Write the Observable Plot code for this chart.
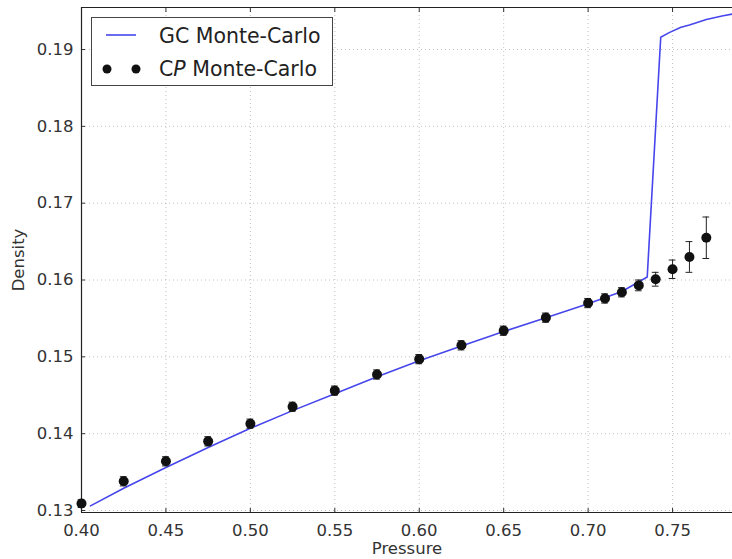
<!DOCTYPE html>
<html>
<head>
<meta charset="utf-8">
<script src="https://cdn.jsdelivr.net/npm/d3@7"></script>
<script src="https://cdn.jsdelivr.net/npm/@observablehq/plot@0.6"></script>
<style>
  html, body { margin: 0; padding: 0; background: #fff; }
  #chart { position: relative; width: 732px; height: 559px; font-family: "DejaVu Sans", sans-serif; }
  #legend {
    position: absolute; left: 91px; top: 17px; width: 242px; height: 69px;
    background: #fff; border: 1px solid #444; box-sizing: border-box;
    font-size: 20.5px; color: #222;
  }
  #legend svg { position: absolute; left: 0; top: 0; }
  #legend .label { position: absolute; left: 67px; white-space: nowrap; line-height: 24px; }
  #legend .math { font-style: italic; }
</style>
</head>
<body>
<div id="chart">
  <div id="legend">
    <svg width="60" height="67">
      <line x1="14" x2="44" y1="17" y2="17" stroke="#4646ec" stroke-width="1.6"/>
      <circle cx="15" cy="51" r="4.5" fill="#111"/>
      <circle cx="44" cy="51" r="4.5" fill="#111"/>
    </svg>
    <span class="label" style="top:6px">GC Monte-Carlo</span>
    <span class="label" style="top:39px">C<span class="math">P</span> Monte-Carlo</span>
  </div>
</div>
<script>
// Grand-canonical Monte-Carlo density curve
const pressureGC = [0.4053, 0.425, 0.45, 0.475, 0.50, 0.525, 0.55, 0.575, 0.60, 0.625, 0.65, 0.675, 0.70, 0.72, 0.735,
                    0.743, 0.748, 0.755, 0.76, 0.77, 0.78, 0.79];
const densityGC  = [0.1306, 0.1329, 0.1356, 0.1382, 0.1407, 0.1430, 0.1452, 0.1474, 0.1495, 0.1514, 0.1533, 0.1551, 0.1569, 0.1585, 0.1604,
                    0.1916, 0.1922, 0.1929, 0.1932, 0.1939, 0.1944, 0.1948];

// Constant-pressure Monte-Carlo averages with error bars
const pressureCP = [0.40, 0.425, 0.45, 0.475, 0.50, 0.525, 0.55, 0.575, 0.60, 0.625, 0.65, 0.675, 0.70, 0.71, 0.72, 0.73, 0.74, 0.75, 0.76, 0.77];
const densityCP  = [0.1309, 0.1338, 0.1364, 0.1390, 0.1413, 0.1435, 0.1456, 0.1477, 0.1497, 0.1515, 0.1534, 0.1551, 0.1570, 0.1576, 0.1584, 0.1593, 0.1601, 0.1614, 0.1630, 0.1655];
const errorCP    = [0.0005, 0.0006, 0.0006, 0.0006, 0.0006, 0.0006, 0.0006, 0.0006, 0.0006, 0.0006, 0.0006, 0.0006, 0.0006, 0.0006, 0.0006, 0.0007, 0.0009, 0.0012, 0.0020, 0.0027];

// Tick values
const xTicks = [0.40, 0.45, 0.50, 0.55, 0.60, 0.65, 0.70, 0.75];
const yTicks = [0.13, 0.14, 0.15, 0.16, 0.17, 0.18, 0.19];

const xDomain = [0.40, 0.7855];
const yDomain = [0.12974, 0.19547];

const gc = pressureGC.map((p, i) => ({p, d: densityGC[i]}));
const cp = pressureCP.map((p, i) => ({p, d: densityCP[i], lo: densityCP[i] - errorCP[i], hi: densityCP[i] + errorCP[i]}));
const capHalf = 0.002;

const fmt = d3.format(".2f");
const grid = {stroke: "#999", strokeOpacity: 0.6, strokeDasharray: "1,3"};

const chart = Plot.plot({
  width: 732,
  height: 559,
  marginLeft: 81,
  marginRight: 0,
  marginTop: 7,
  marginBottom: 47,
  style: {fontFamily: "DejaVu Sans, sans-serif", fontSize: "16.5px", color: "#333", background: "transparent"},
  x: {type: "linear", domain: xDomain},
  y: {type: "linear", domain: yDomain},
  marks: [
    Plot.gridX(xTicks, grid),
    Plot.gridY(yTicks, grid),
    Plot.axisX(xTicks, {tickSize: 0, tickPadding: 12, tickFormat: fmt, label: "Pressure", labelAnchor: "center", labelArrow: "none", labelOffset: 41, fontSize: 16.5}),
    Plot.axisY(yTicks, {tickSize: 0, tickPadding: 8, tickFormat: fmt, label: "Density", labelAnchor: "center", labelArrow: "none", labelOffset: 69, fontSize: 16.5}),
    // inward tick marks on bottom, top and left edges
    Plot.axisX(xTicks, {tickSize: 4, dy: -4, text: null, label: null, stroke: "#333"}),
    Plot.axisX(xTicks, {anchor: "top", tickSize: 4, dy: 4, text: null, label: null, stroke: "#333"}),
    Plot.axisY(yTicks, {tickSize: 4, dx: 4, text: null, label: null, stroke: "#333"}),
    // frame: left, top, bottom edges
    Plot.ruleX([xDomain[0]], {stroke: "#222", strokeWidth: 1.2}),
    Plot.ruleY([yDomain[0], yDomain[1]], {stroke: "#222", strokeWidth: 1.2}),
    Plot.line(gc, {x: "p", y: "d", stroke: "#4646ec", strokeWidth: 1.6}),
    Plot.ruleX(cp, {x: "p", y1: "lo", y2: "hi", stroke: "#222", strokeWidth: 1}),
    Plot.ruleY(cp, {y: "lo", x1: d => d.p - capHalf, x2: d => d.p + capHalf, stroke: "#222", strokeWidth: 1}),
    Plot.ruleY(cp, {y: "hi", x1: d => d.p - capHalf, x2: d => d.p + capHalf, stroke: "#222", strokeWidth: 1}),
    Plot.dot(cp, {x: "p", y: "d", r: 5, fill: "#111", stroke: "none"})
  ]
});
chart.style.position = "absolute";
chart.style.left = "0";
chart.style.top = "0";
document.getElementById("chart").prepend(chart);
</script>
</body>
</html>
